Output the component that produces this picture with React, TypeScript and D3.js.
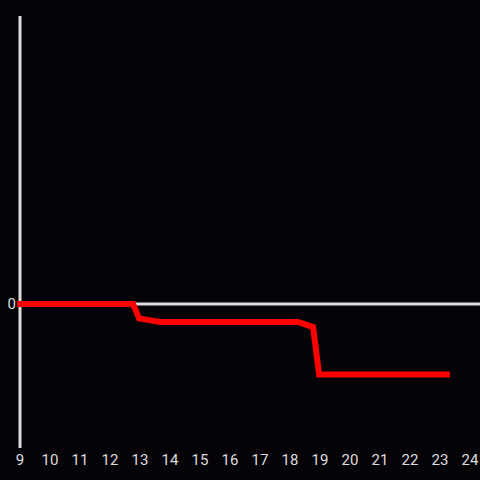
import React from "react";
import * as d3 from "d3";

const xs = [9, 12.77, 12.97, 13.67, 18.27, 18.77, 18.97, 23.23];
const ys = [0, 0, -0.1, -0.125, -0.125, -0.16, -0.49, -0.49];
const xTicks = [9, 10, 11, 12, 13, 14, 15, 16, 17, 18, 19, 20, 21, 22, 23, 24];
const yTicks = [0];

export default function App() {
  const W = 480, H = 480;
  const x = d3.scaleLinear().domain([9, 24]).range([20, 470]);
  const y = d3.scaleLinear().domain([-1, 2]).range([448, 16]);
  const data = xs.map((v, i) => [v, ys[i]] as [number, number]);
  const line = d3.line<[number, number]>().x(d => x(d[0])).y(d => y(d[1]));
  const txt = "#dddddd";
  return (
    <svg width={W} height={H} style={{ position: "absolute", left: 0, top: 0, background: "#050308" }}>
      <rect width={W} height={H} fill="#050308" />
      <line x1={x(9)} x2={W} y1={y(0)} y2={y(0)} stroke="#dddddd" strokeWidth={3} />
      <line x1={x(9)} x2={x(9)} y1={16} y2={448} stroke="#dddddd" strokeWidth={3} />
      <path d={line(data) || ""} fill="none" stroke="#ff0000" strokeWidth={6} strokeLinejoin="miter" strokeLinecap="square" />
      {yTicks.map(t => (
        <text key={t} x={16} y={y(t)} dy="0.35em" textAnchor="end" fill={txt} fontFamily="Roboto, sans-serif" fontSize={15}>{t}</text>
      ))}
      {xTicks.map(t => (
        <text key={t} x={x(t)} y={460} dy="0.35em" textAnchor="middle" fill={txt} fontFamily="Roboto, sans-serif" fontSize={15}>{t}</text>
      ))}
    </svg>
  );
}
